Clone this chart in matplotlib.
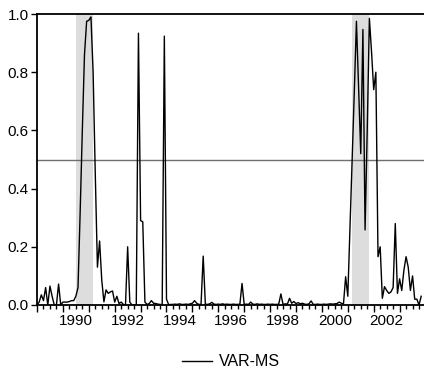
import numpy as np
import matplotlib
matplotlib.use("Agg")
import matplotlib.pyplot as plt

plt.rcParams['font.family'] = ['Liberation Sans', 'DejaVu Sans']

# monthly regime probability, 1989:01 onwards
start_year = 1989
prob = [
    0.0, 0.01, 0.035, 0.015, 0.06, 0.0, 0.065, 0.03, 0.0, 0.0,
    0.072, 0.0, 0.01, 0.01, 0.01, 0.012, 0.015, 0.015, 0.03, 0.06,
    0.32, 0.6, 0.86, 0.975, 0.978, 0.99, 0.8, 0.45, 0.13, 0.22,
    0.086, 0.011, 0.052, 0.04, 0.045, 0.048, 0.01, 0.03, 0.005, 0.01,
    0.002, 0.0, 0.2, 0.01, 0.0, 0.0, 0.002, 0.934, 0.29, 0.286,
    0.01, 0.002, 0.005, 0.015, 0.006, 0.005, 0.003, 0.002, 0.001, 0.924,
    0.02, 0.001, 0.002, 0.002, 0.003, 0.002, 0.004, 0.002, 0.002, 0.003,
    0.002, 0.004, 0.006, 0.015, 0.006, 0.002, 0.002, 0.168, 0.003, 0.002,
    0.004, 0.009, 0.003, 0.002, 0.003, 0.002, 0.004, 0.002, 0.003, 0.002,
    0.002, 0.003, 0.002, 0.002, 0.003, 0.074, 0.002, 0.003, 0.002, 0.01,
    0.003, 0.002, 0.004, 0.002, 0.003, 0.002, 0.002, 0.003, 0.002, 0.003,
    0.002, 0.002, 0.003, 0.038, 0.002, 0.004, 0.003, 0.023, 0.006, 0.012,
    0.005, 0.008, 0.004, 0.006, 0.003, 0.002, 0.004, 0.014, 0.002, 0.002,
    0.003, 0.002, 0.002, 0.003, 0.002, 0.003, 0.004, 0.003, 0.004, 0.005,
    0.01, 0.006, 0.004, 0.097, 0.03, 0.26, 0.49, 0.73, 0.975, 0.75,
    0.52, 0.947, 0.258, 0.6, 0.985, 0.87, 0.74, 0.80, 0.166, 0.2,
    0.023, 0.063, 0.05, 0.04, 0.045, 0.06, 0.28, 0.04, 0.09, 0.05,
    0.12, 0.166, 0.13, 0.05, 0.1, 0.02, 0.02, 0.0, 0.03,
]
recessions = [(1990.5, 1991.17), (2001.17, 2001.83)]
year_labels = [1990, 1992, 1994, 1996, 1998, 2000, 2002]

t = start_year + np.arange(len(prob)) / 12.0

fig = plt.figure(figsize=(4.24, 3.73), dpi=100)
ax = fig.add_axes([37 / 424, 68 / 373, 387 / 424, 291 / 373])

for a, b in recessions:
    ax.axvspan(a, b, color='#dddddd', lw=0, zorder=0)
ax.axhline(0.5, color='#707070', lw=1.0, zorder=1)
line, = ax.plot(t, prob, color='black', lw=1.0, zorder=2)

ax.set_xlim(1989, 1989 + 387 / 25.9)
ax.set_ylim(0, 1.0)
ax.set_yticks([0.0, 0.2, 0.4, 0.6, 0.8, 1.0])
ax.set_yticklabels(['0.0', '0.2', '0.4', '0.6', '0.8', '1.0'], fontsize=11)

ax.set_xticks(np.arange(1989, 2004))
ax.set_xticklabels([])
ax.set_xticks(np.arange(1989, 2004, 0.25), minor=True)
ax.tick_params(axis='x', which='major', length=5, width=1.0, direction='out')
ax.tick_params(axis='x', which='minor', length=3, width=1.0, direction='out')
ax.tick_params(axis='y', length=4, width=1.0, direction='out', pad=2)

for yr in year_labels:
    ax.text(yr + 0.5, -0.03, str(yr), ha='center', va='top', fontsize=11,
            transform=ax.get_xaxis_transform())

ax.spines['right'].set_visible(False)
for s in ['left', 'top', 'bottom']:
    ax.spines[s].set_linewidth(1.3)

fig.legend([line], ['VAR-MS'], loc='center', bbox_to_anchor=(231 / 424, 1 - 362 / 373),
           frameon=False, fontsize=11.5, handlelength=1.9, handletextpad=0.4)

fig.savefig('out.png', dpi=100)
